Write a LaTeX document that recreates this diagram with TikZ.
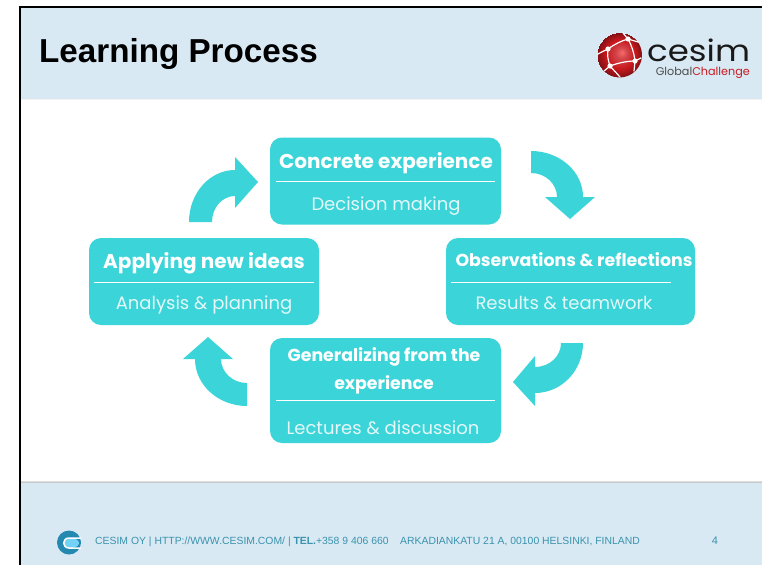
\documentclass[tikz,border=0pt]{standalone}
\usepackage{fontspec}
\setmainfont{Liberation Sans}
\newfontfamily\gothic{Poppins}
\definecolor{slidebg}{HTML}{D9E9F3}
\definecolor{teal}{HTML}{3BD4D8}
\definecolor{foot}{HTML}{3A93AD}
\definecolor{coinblue}{HTML}{2389B0}
\definecolor{logored}{HTML}{C8191E}
\definecolor{softwhite}{HTML}{E4F8F9}
\pgfdeclareradialshading{sphere}{\pgfpoint{3pt}{3pt}}{
  color(0pt)=(red!55!white!90!logored);
  color(6pt)=(logored!80!white);
  color(16pt)=(logored);
  color(25pt)=(logored!65!black)}
\tikzset{
  x=1pt,y=-1pt,
  box/.style={fill=teal,rounded corners=12pt,inner sep=0pt,draw=none},
  flow/.style={fill=teal,draw=none},
  head/.style={text=white,font=\gothic\bfseries\fontsize{20}{24}\selectfont,inner sep=0pt},
  headsm/.style={text=white,font=\gothic\bfseries\fontsize{17.35}{21}\selectfont,inner sep=0pt},
  sub/.style={text=softwhite,font=\gothic\fontsize{18}{22}\selectfont,inner sep=0pt},
  rulel/.style={draw=white,line width=0.9pt},
  foottext/.style={text=foot,anchor=west,inner sep=0pt,font=\fontsize{10.4}{12}\selectfont},
}
\begin{document}
\begin{tikzpicture}
\useasboundingbox (0,0) rectangle (762,565);
\fill[white] (0,0) rectangle (762,565);
% slide bands
\fill[slidebg] (21,8) rectangle (762,99);
\fill[slidebg] (21,482) rectangle (762,565);
\fill[black!12] (21,481) rectangle (762,482);
\fill[black!22] (21,482) rectangle (762,483.4);
\fill[black!5] (21,99) rectangle (762,100);
\fill[black] (19,6) rectangle (762,8);
\fill[black] (19,6) rectangle (21,565);
% title
\node[anchor=west,inner sep=0pt,font=\bfseries\fontsize{33.2}{38}\selectfont] (title) at (39,54) {Learning Process};
% logo
\shade[shading=sphere] (619.5,55) circle (22.5);
\draw[white,line width=1.2pt,line cap=round] (598,54) .. controls (601,52) and (604,51) .. (608,49)
  .. controls (615,44) and (621,41) .. (628,39) .. controls (632,46) and (634,53) .. (635,61)
  .. controls (627,61) and (618,63) .. (610,66) .. controls (608,60) and (607,55) .. (608,49)
  (610,66) -- (604,71) (628,39) -- (623,33) (635,61) -- (634,71) (635,61) -- (641,58) (628,39) -- (638,42) (610,66) -- (620,77);
\foreach \p in {(608,49),(628,39),(635,61),(610,66)} \fill[white] \p circle (2.6);
\node[anchor=base west,inner sep=0pt,text=black!90,font=\gothic\fontsize{27}{28}\selectfont] (brand) at (647,61.5) {\scalebox{1.26}[1.1]{cesim}};
\node[anchor=base east,inner sep=0pt,font=\gothic\fontsize{11.2}{12}\selectfont] (tag) at (750,75.5) {\textcolor{black!70}{Global}\textcolor{logored}{Challenge}};
% boxes
\node[box,minimum width=231pt,minimum height=87pt] (top) at (385.5,181) {};
\node[box,minimum width=230pt,minimum height=87pt] (left) at (204,281.5) {};
\node[box,minimum width=249pt,minimum height=87pt] (right) at (570.5,281.5) {};
\node[box,minimum width=231pt,minimum height=105pt] (bottom) at (385.5,390.5) {};
% box text
\node[head] (t1) at (386,163) {Concrete experience};
\node[sub] (s1) at (386,206) {Decision making};
\draw[rulel] (276,181.5) -- (495,181.5);
\node[head] (t2) at (204,263) {Applying new ideas};
\node[sub] (s2) at (204,305) {Analysis \& planning};
\draw[rulel] (94,282) -- (314,282);
\node[headsm] (t3) at (574,259.5) {Observations \& reflections};
\node[sub] (s3) at (564,303) {Results \& teamwork};
\draw[rulel] (451,282) -- (671,282);
\node[headsm] (t4) at (384,357) {Generalizing from the};
\node[headsm] (t5) at (384,385) {experience};
\draw[rulel] (276,400.5) -- (495,400.5);
\node[sub] (s4) at (383,428) {Lectures \& discussion};
% arrows
\fill[flow] (189,222) .. controls (189,193.3) and (209.6,170) .. (235,170) -- (235,157) -- (258,182) -- (235,208) -- (235,196)
  .. controls (222.3,196) and (212,207.6) .. (212,222) -- cycle;
\fill[flow] (531,151) .. controls (559.7,151) and (583,171.6) .. (583,197) -- (595,197) -- (570,219) -- (545,197) -- (557,197)
  .. controls (557,183.8) and (545.4,173) .. (531,173) -- cycle;
\fill[flow] (583,343) .. controls (583,370.6) and (561.5,393) .. (535,393) -- (535,406) -- (513,382) -- (535,356) -- (535,367)
  .. controls (549.4,367) and (561,356.3) .. (561,343) -- cycle;
\fill[flow] (247,406) .. controls (218.3,406) and (195,385) .. (195,359) -- (183,359) -- (208,337) -- (233,359) -- (221,359)
  .. controls (221,372.2) and (232.6,383) .. (247,383) -- cycle;
% footer
\fill[coinblue] (69,542.5) circle (12);
\fill[cyan!55!white] (71,543) ellipse (8 and 5);
\draw[white,line width=1.5pt,line cap=round] (80.5,538) -- (69,538) .. controls (62,538) and (62,548) .. (69,548) -- (80.5,548);
\node[foottext] (f1) at (95,542) {CESIM OY | HTTP://WWW.CESIM.COM/ | \textbf{TEL.}+358 9 406 660};
\node[foottext] (f2) at (400,542) {ARKADIANKATU 21 A, 00100 HELSINKI, FINLAND};
\node[text=foot,inner sep=0pt,font=\fontsize{11}{12}\selectfont] (pg) at (715,540.5) {4};
\end{tikzpicture}
\end{document}
